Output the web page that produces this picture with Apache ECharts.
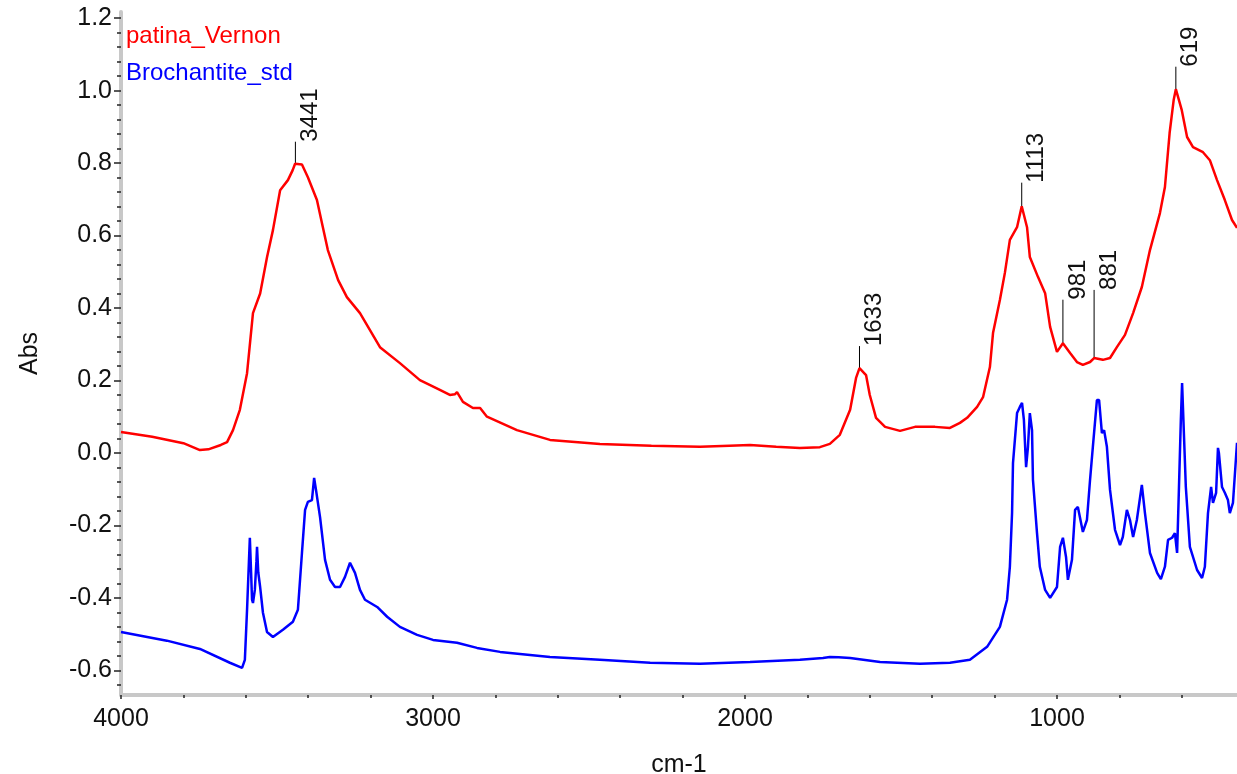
<!DOCTYPE html>
<html>
<head>
<meta charset="utf-8">
<title>patina_Vernon vs Brochantite_std</title>
<script src="https://cdn.jsdelivr.net/npm/echarts@6/dist/echarts.min.js"></script>
<style>
  html, body { margin: 0; padding: 0; background: #fff; }
  #chart { width: 1237px; height: 774px; }
</style>
</head>
<body>
<div id="chart"></div>
<script>
// spectrum 1: patina_Vernon (red)
const patinaWn = [
  4000, 3900, 3800, 3747, 3720, 3680, 3660, 3641, 3619, 3596, 3577, 3554, 3532, 3513, 3490,
  3465, 3450, 3442, 3420, 3401, 3372, 3353, 3337, 3304, 3276, 3234, 3170, 3106, 3042, 2978, 2946,
  2930, 2923, 2904, 2872, 2849, 2827, 2731, 2625, 2465, 2300, 2144, 2050, 1984, 1900, 1824,
  1760, 1728, 1696, 1663, 1644, 1633, 1612, 1600, 1580, 1551, 1503, 1455, 1391, 1343, 1311,
  1288, 1256, 1237, 1215, 1205, 1183, 1167, 1151, 1128, 1113, 1096, 1087, 1061, 1038, 1022,
  1000, 981, 958, 936, 917, 894, 881, 853, 830, 808, 782, 756, 728, 702, 670,
  654, 639, 626, 619, 600, 583, 564, 532, 510, 487, 462, 439, 423
];
const patinaAbs = [
  0.058, 0.045, 0.027, 0.008, 0.010, 0.022, 0.030, 0.063, 0.119, 0.220, 0.386, 0.440, 0.540, 0.615, 0.725,
  0.753, 0.780, 0.798, 0.796, 0.761, 0.698, 0.623, 0.560, 0.477, 0.430, 0.386, 0.292, 0.248, 0.201, 0.174, 0.160,
  0.162, 0.168, 0.141, 0.124, 0.124, 0.100, 0.063, 0.036, 0.025, 0.020, 0.017, 0.020, 0.022, 0.017, 0.014,
  0.016, 0.025, 0.050, 0.119, 0.207, 0.234, 0.215, 0.160, 0.097, 0.072, 0.061, 0.072, 0.072, 0.069, 0.083,
  0.097, 0.127, 0.154, 0.237, 0.331, 0.422, 0.497, 0.588, 0.623, 0.681, 0.623, 0.541, 0.486, 0.441, 0.348,
  0.279, 0.303, 0.276, 0.251, 0.243, 0.251, 0.262, 0.257, 0.262, 0.292, 0.326, 0.386, 0.458, 0.560, 0.662,
  0.734, 0.883, 0.974, 1.004, 0.946, 0.872, 0.844, 0.830, 0.808, 0.753, 0.698, 0.643, 0.621
];

// spectrum 2: Brochantite_std (blue)
const brochWn = [
  4000, 3853, 3747, 3651, 3612, 3603, 3596, 3590, 3587, 3583, 3580, 3577, 3571, 3566, 3564,
  3560, 3554, 3545, 3532, 3513, 3481, 3449, 3433, 3420, 3410, 3401, 3388, 3381, 3375, 3362,
  3346, 3330, 3314, 3298, 3282, 3266, 3250, 3234, 3218, 3179, 3147, 3106, 3051, 3000, 2923,
  2859, 2785, 2625, 2465, 2304, 2144, 1984, 1824, 1750, 1728, 1700, 1663, 1567, 1439, 1343,
  1279, 1224, 1183, 1160, 1151, 1144, 1141, 1128, 1119, 1112, 1106, 1099, 1093, 1087, 1080,
  1077, 1064, 1055, 1038, 1022, 1000, 990, 981, 971, 965, 952, 942, 933, 917, 904,
  894, 885, 872, 865, 856, 849, 840, 830, 814, 798, 789, 776, 766, 756, 744,
  728, 718, 702, 679, 667, 654, 644, 631, 622, 615, 609, 603, 599, 593, 587,
  574, 551, 535, 526, 516, 506, 500, 490, 484, 481, 471, 462, 452, 446, 436,
  426, 423
];
const brochAbs = [
  -0.494, -0.518, -0.541, -0.579, -0.593, -0.571, -0.433, -0.300, -0.234, -0.330, -0.405, -0.414, -0.378, -0.300, -0.259,
  -0.330, -0.370, -0.441, -0.494, -0.508, -0.488, -0.466, -0.433, -0.276, -0.157, -0.135, -0.130, -0.069, -0.102, -0.177,
  -0.295, -0.350, -0.370, -0.370, -0.342, -0.303, -0.331, -0.378, -0.405, -0.425, -0.452, -0.480, -0.502, -0.516, -0.524,
  -0.538, -0.549, -0.563, -0.571, -0.579, -0.582, -0.577, -0.571, -0.566, -0.563, -0.564, -0.566, -0.577, -0.582, -0.579,
  -0.571, -0.535, -0.480, -0.405, -0.314, -0.166, -0.028, 0.110, 0.127, 0.138, 0.091, -0.039, 0.017, 0.110, 0.063,
  -0.074, -0.221, -0.314, -0.378, -0.400, -0.370, -0.259, -0.234, -0.287, -0.350, -0.295, -0.157, -0.149, -0.218, -0.185,
  -0.074, 0.017, 0.146, 0.146, 0.055, 0.063, 0.017, -0.102, -0.212, -0.254, -0.232, -0.157, -0.185, -0.232, -0.185,
  -0.088, -0.166, -0.276, -0.331, -0.348, -0.314, -0.240, -0.234, -0.221, -0.276, -0.094, 0.091, 0.193, 0.193, -0.094,
  -0.259, -0.323, -0.345, -0.314, -0.166, -0.094, -0.138, -0.110, 0.014, 0.000, -0.094, -0.110, -0.130, -0.166, -0.138,
  -0.011, 0.028
];

// peak picks on the patina spectrum
const peakLabels = [3441, 1633, 1113, 981, 881, 619];
const peakHeights = [0.800, 0.234, 0.681, 0.303, 0.262, 1.004];
const peakLineTops = [0.859, 0.295, 0.746, 0.423, 0.450, 1.066];

// axis ticks
const xMajorTicks = [4000, 3000, 2000, 1000];
const xMinorTicks = [3800, 3600, 3400, 3200, 2800, 2600, 2400, 2200, 1800, 1600, 1400, 1200, 800, 600];
const yMajorTicks = [-0.6, -0.4, -0.2, 0, 0.2, 0.4, 0.6, 0.8, 1.0, 1.2];
const yMinorTicks = [];
for (let i = -16; i <= 29; i++) {
  if (i % 5 !== 0) yMinorTicks.push(+(i * 0.04).toFixed(2));
}

const X_MIN = 423;
const X_MAX = 4000;
const Y_MIN = -0.668;
const Y_MAX = 1.217;

const FONT = 'Liberation Sans, Arial, sans-serif';
const axisGrey = '#c8c8c8';

function pairs(xs, ys) {
  return xs.map((x, i) => [x, ys[i]]);
}

function renderPeak(params, api) {
  const wn = api.value(0);
  const base = api.coord([wn, api.value(1)]);
  const top = api.coord([wn, api.value(2)]);
  return {
    type: 'group',
    children: [
      {
        type: 'line',
        shape: { x1: base[0], y1: base[1], x2: top[0], y2: top[1] },
        style: { stroke: '#000', lineWidth: 1 }
      },
      {
        type: 'text',
        x: top[0] + 3,
        y: top[1],
        rotation: Math.PI / 2,
        style: {
          text: String(wn),
          fill: '#111',
          font: '24px ' + FONT,
          align: 'left',
          verticalAlign: 'top'
        }
      }
    ]
  };
}

const chart = echarts.init(document.getElementById('chart'));

chart.setOption({
  animation: false,
  backgroundColor: '#fff',
  textStyle: { fontFamily: FONT },
  grid: { left: 121, right: 0, top: 12, bottom: 79, outerBoundsMode: 'none', containLabel: false },
  legend: {
    orient: 'vertical',
    left: 121,
    top: 24,
    padding: 0,
    icon: 'none',
    itemWidth: 0,
    itemHeight: 24,
    itemGap: 13,
    selectedMode: false,
    textStyle: { fontSize: 24, fontFamily: FONT },
    data: [
      { name: 'patina_Vernon', textStyle: { color: '#ff0000' } },
      { name: 'Brochantite_std', textStyle: { color: '#0000ff' } }
    ]
  },
  xAxis: [
    {
      type: 'value',
      position: 'bottom',
      inverse: true,
      min: X_MIN,
      max: X_MAX,
      name: 'cm-1',
      nameLocation: 'middle',
      nameGap: 58,
      nameTextStyle: { fontSize: 25, color: '#111' },
      axisLine: { show: true, onZero: false, lineStyle: { color: axisGrey, width: 4 } },
      axisTick: { show: true, customValues: xMajorTicks, length: 4, lineStyle: { color: '#222', width: 1.5 } },
      axisLabel: {
        customValues: xMajorTicks,
        fontSize: 25,
        color: '#111',
        margin: 12,
        formatter: (v) => String(v)
      },
      splitLine: { show: false }
    },
    {
      type: 'value',
      position: 'bottom',
      inverse: true,
      min: X_MIN,
      max: X_MAX,
      axisLine: { show: false, onZero: false },
      axisTick: { show: true, customValues: xMinorTicks, length: 3, lineStyle: { color: '#222', width: 1.5 } },
      axisLabel: { show: false, customValues: xMinorTicks },
      splitLine: { show: false }
    }
  ],
  yAxis: [
    {
      type: 'value',
      position: 'left',
      min: Y_MIN,
      max: Y_MAX,
      name: 'Abs',
      nameLocation: 'middle',
      nameGap: 78,
      nameTextStyle: { fontSize: 25, color: '#111' },
      axisLine: { show: true, onZero: false, lineStyle: { color: axisGrey, width: 4 } },
      axisTick: { show: true, customValues: yMajorTicks, length: 7, lineStyle: { color: '#222', width: 1.5 } },
      axisLabel: {
        customValues: yMajorTicks,
        fontSize: 25,
        color: '#111',
        margin: 9,
        formatter: (v) => v.toFixed(1)
      },
      splitLine: { show: false }
    },
    {
      type: 'value',
      position: 'left',
      min: Y_MIN,
      max: Y_MAX,
      axisLine: { show: false, onZero: false },
      axisTick: { show: true, customValues: yMinorTicks, length: 4, lineStyle: { color: '#222', width: 1.5 } },
      axisLabel: { show: false, customValues: yMinorTicks },
      splitLine: { show: false }
    }
  ],
  series: [
    {
      name: 'patina_Vernon',
      type: 'line',
      showSymbol: false,
      data: pairs(patinaWn, patinaAbs),
      lineStyle: { color: '#ff0000', width: 2.5 },
      itemStyle: { color: '#ff0000' }
    },
    {
      name: 'Brochantite_std',
      type: 'line',
      showSymbol: false,
      data: pairs(brochWn, brochAbs),
      lineStyle: { color: '#0000ff', width: 2.5 },
      itemStyle: { color: '#0000ff' }
    },
    {
      name: 'peaks',
      type: 'custom',
      clip: false,
      renderItem: renderPeak,
      data: peakLabels.map((wn, i) => [wn, peakHeights[i], peakLineTops[i]])
    }
  ]
});
</script>
</body>
</html>
